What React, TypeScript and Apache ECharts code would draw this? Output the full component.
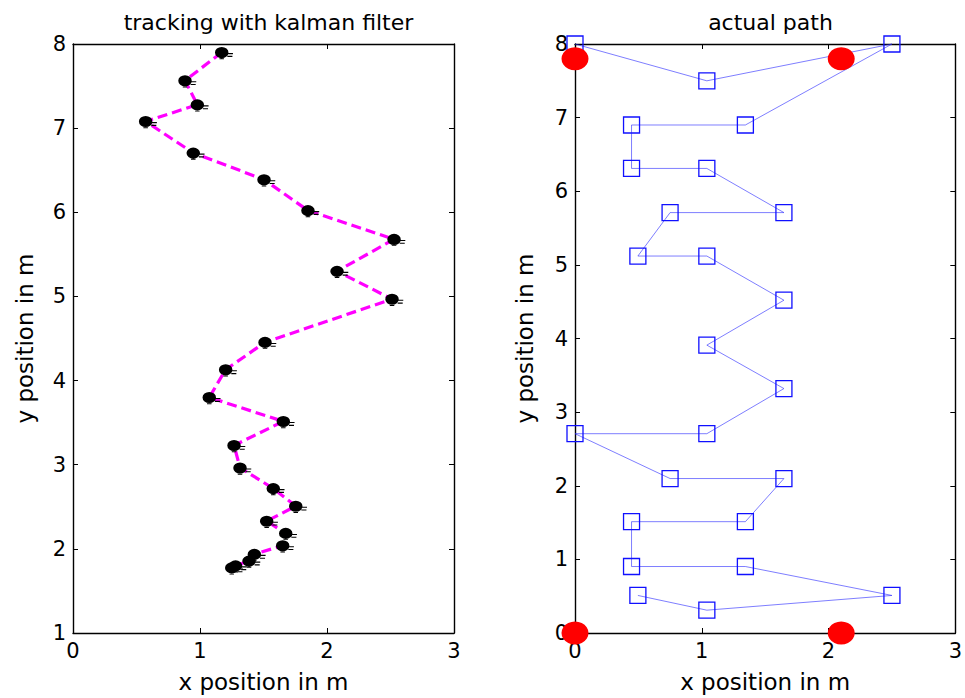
import React, { useEffect, useRef } from "react";
import * as echarts from "echarts";

// Kalman-filter tracked positions (left panel)
const kfX = [1.171, 0.882, 0.979, 0.572, 0.947, 1.504, 1.85, 2.528, 2.079, 2.512, 1.512, 1.202, 1.073, 1.656, 1.268, 1.315, 1.577, 1.754, 1.525, 1.675, 1.651, 1.428, 1.386, 1.28, 1.25];
const kfY = [7.9, 7.565, 7.278, 7.08, 6.705, 6.389, 6.022, 5.679, 5.3, 4.968, 4.455, 4.13, 3.8, 3.515, 3.23, 2.963, 2.718, 2.508, 2.33, 2.185, 2.039, 1.936, 1.856, 1.8, 1.775];

// Actual path (right panel)
const actualX = [0.496, 1.04, 2.5, 1.344, 0.446, 0.446, 1.344, 1.648, 0.75, 0, 1.04, 1.648, 1.04, 1.648, 1.04, 0.496, 0.75, 1.648, 1.04, 0.446, 0.446, 1.344, 2.5, 1.04, 0];
const actualY = [0.51, 0.31, 0.51, 0.903, 0.903, 1.512, 1.512, 2.098, 2.098, 2.707, 2.707, 3.32, 3.91, 4.52, 5.12, 5.12, 5.71, 5.71, 6.31, 6.31, 6.9, 6.9, 8, 7.5, 8];

// Anchor (red) points
const anchorX = [0, 2.1, 0, 2.1];
const anchorY = [7.8, 7.8, 0, 0];

const xTicksMin = 0, xTicksMax = 3;
const leftYMin = 1, leftYMax = 8;
const rightYMin = 0, rightYMax = 8;

const FONT = "DejaVu Sans";

const markerPath =
  "path://M0,6 A6,6 0 1,1 12,6 A6,6 0 1,1 0,6 Z M11.5,6.5 h4.5 v1.2 h-4.5 Z M11,9.5 h4.5 v1.2 h-4.5 Z M4,12.2 h4 v1 h-4 Z";

export default function App() {
  const ref = useRef<HTMLDivElement>(null);
  useEffect(() => {
    if (!ref.current) return;
    const chart = echarts.init(ref.current, null, { renderer: "svg" });
    const grids = [
      { left: 73, top: 44, width: 381, height: 591 },
      { left: 575, top: 44, width: 381, height: 591 },
    ];
    const axisLine = { show: true, onZero: false, lineStyle: { color: "#000", width: 1.4 } };
    const tick = { show: true, inside: true, length: 5, lineStyle: { color: "#000", width: 1 } };
    const label = { color: "#000", fontFamily: FONT, fontSize: 21, margin: 7, showMinLabel: true, showMaxLabel: true };
    const nameStyle = { color: "#000", fontFamily: FONT, fontSize: 23 };
    const mkX = (gi: number, pos: "bottom" | "top", main: boolean) => ({
      type: "value",
      gridIndex: gi,
      position: pos,
      min: xTicksMin,
      max: xTicksMax,
      interval: 1,
      axisLine,
      axisTick: tick,
      axisLabel: main ? label : { show: false },
      splitLine: { show: false },
      name: main ? "x position in m" : "",
      nameLocation: "middle",
      nameGap: 37,
      nameTextStyle: nameStyle,
    });
    const mkY = (gi: number, pos: "left" | "right", main: boolean, mn: number, mx: number, gap: number) => ({
      type: "value",
      gridIndex: gi,
      position: pos,
      min: mn,
      max: mx,
      interval: 1,
      axisLine,
      axisTick: tick,
      axisLabel: main ? label : { show: false },
      splitLine: { show: false },
      name: main ? "y position in m" : "",
      nameLocation: "middle",
      nameGap: gap,
      nameRotate: 90,
      nameTextStyle: nameStyle,
    });
    chart.setOption({
      animation: false,
      backgroundColor: "#fff",
      title: [
        { text: "tracking with kalman filter", left: 263.5, top: 6, textAlign: "center", textStyle: { fontFamily: FONT, fontSize: 22, fontWeight: "normal", color: "#000" } },
        { text: "actual path", left: 765.5, top: 6, textAlign: "center", textStyle: { fontFamily: FONT, fontSize: 22, fontWeight: "normal", color: "#000" } },
      ],
      grid: grids,
      xAxis: [mkX(0, "bottom", true), mkX(0, "top", false), mkX(1, "bottom", true), mkX(1, "top", false)],
      yAxis: [
        mkY(0, "left", true, leftYMin, leftYMax, 37),
        mkY(0, "right", false, leftYMin, leftYMax, 37),
        mkY(1, "left", true, rightYMin, rightYMax, 39),
        mkY(1, "right", false, rightYMin, rightYMax, 39),
      ],
      series: [
        {
          type: "line",
          xAxisIndex: 0,
          yAxisIndex: 0,
          data: kfX.map((x, i) => [x, kfY[i]]),
          clip: false,
          lineStyle: { color: "#ff00ff", width: 3.2, type: [10, 5] },
          symbol: markerPath,
          symbolSize: [18, 14.85],
          symbolOffset: [2.25, 0.7],
          symbolKeepAspect: true,
          itemStyle: { color: "#000", opacity: 1 },
          z: 3,
        },
        {
          type: "line",
          xAxisIndex: 2,
          yAxisIndex: 2,
          data: actualX.map((x, i) => [x, actualY[i]]),
          clip: false,
          lineStyle: { color: "rgba(40,40,255,0.6)", width: 1 },
          symbol: "rect",
          symbolSize: 16,
          itemStyle: { color: "rgba(255,255,255,0)", borderColor: "#1010ff", borderWidth: 1.3 },
          z: 3,
        },
        {
          type: "scatter",
          xAxisIndex: 2,
          yAxisIndex: 2,
          data: anchorX.map((x, i) => [x, anchorY[i]]),
          clip: false,
          symbol: "circle",
          symbolSize: [27, 23],
          itemStyle: { color: "#ff0000", opacity: 1 },
          z: 4,
        },
      ],
    });
    return () => chart.dispose();
  }, []);
  return <div ref={ref} style={{ position: "fixed", left: 0, top: 0, width: 965, height: 698, background: "#fff" }} />;
}
